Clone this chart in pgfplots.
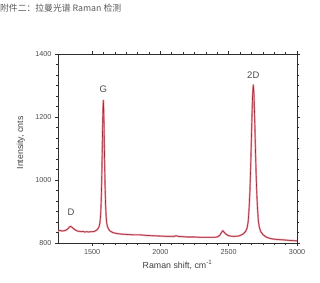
\documentclass[border=0pt]{standalone}
\usepackage{fontspec}
\setmainfont{Liberation Sans}
\newfontfamily\cjk{Noto Sans CJK SC}
\usepackage{pgfplots}
\pgfplotsset{compat=1.18}
\usepackage{pgfplotstable}
\definecolor{halo}{RGB}{240,150,160}
\definecolor{core}{RGB}{150,45,60}
\definecolor{axgray}{RGB}{45,45,45}
\pgfplotstableread{
x y
1250 838
1265 840
1280 838
1295 839
1310 841
1322 845
1332 850
1340 853
1346 852
1355 849
1365 845
1378 841
1392 838
1405 837
1420 836
1432 837
1445 835
1460 836
1475 835
1490 836
1505 836
1518 837
1532 841
1542 845
1552 853
1557 865
1562 888
1566 928
1570 996
1573 1069
1576 1151
1579 1223
1582 1253
1585 1221
1588 1149
1591 1067
1594 994
1598 926
1602 886
1607 863
1612 852
1622 843
1632 838
1652 833
1682 830
1720 828
1760 827
1800 826
1850 826
1900 824
1950 823
2000 822
2050 821
2100 821
2115 823
2130 821
2200 819
2250 819
2300 818
2350 818
2400 818
2420 820
2435 825
2445 832
2452 837
2457 839
2463 836
2475 830
2490 825
2510 822
2540 821
2570 822
2590 825
2610 830
2625 838
2635 848
2643 870
2650 916
2655 963
2660 1028
2665 1110
2670 1198
2675 1272
2680 1302
2685 1272
2690 1198
2695 1110
2700 1028
2705 963
2710 916
2717 870
2725 848
2735 836
2750 827
2770 820
2790 816
2820 813
2860 811
2900 810
2950 808
3000 807
}\spectrum
\begin{document}
\begin{tikzpicture}[x=1pt,y=1pt]
\useasboundingbox (0,0) rectangle (320,282);
\node[anchor=west,inner sep=0pt,text=black!65,font=\fontsize{8.8}{10}\selectfont] at (0,274) {\cjk 附件二：拉曼光谱 Raman 检测};
\begin{axis}[
  at={(58pt,39pt)}, anchor=south west,
  scale only axis, width=239pt, height=189pt,
  xmin=1250, xmax=3000, ymin=800, ymax=1400,
  xtick={1500,2000,2500,3000}, ytick={800,1000,1200,1400},
  minor x tick num=5, minor y tick num=5,
  tick align=outside,
  major tick length=3pt, minor tick length=2pt,
  axis line style={axgray, line width=1pt},
  every tick/.style={axgray, line width=0.7pt},
  tick label style={font=\fontsize{7.2}{8}\selectfont, text=black!70},
  /pgf/number format/assume math mode=true,
  /pgf/number format/1000 sep={},
  xlabel={Raman shift, cm\textsuperscript{-1}},
  ylabel={Intensity, cnts},
  label style={font=\fontsize{8.8}{10}\selectfont, text=black!75},
  xlabel style={at={(axis description cs:0.5,-0.115)}, anchor=center},
  ylabel style={at={(axis description cs:-0.155,0.53)}, anchor=center, rotate=0},
  clip=false,
]
\addplot[halo, line width=1.8pt, line join=round] table[x=x,y=y] {\spectrum};
\addplot[core, line width=0.6pt, line join=round] table[x=x,y=y] {\spectrum};
\node[font=\fontsize{9.5}{10}\selectfont, text=black!70] at (axis cs:1582,1287) {G};
\node[font=\fontsize{9.5}{10}\selectfont, text=black!70] at (axis cs:2680,1334) {2D};
\node[font=\fontsize{9.5}{10}\selectfont, text=black!70] at (axis cs:1346,898) {D};
\end{axis}
\end{tikzpicture}
\end{document}
